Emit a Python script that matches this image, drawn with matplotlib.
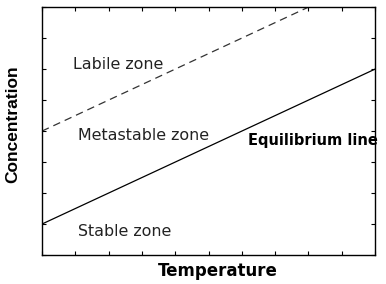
import numpy as np
import matplotlib.pyplot as plt

# solubility diagram: equilibrium (solid) and supersolubility (dashed) lines
temp_eq = [0, 10]
conc_eq = [1, 6]
temp_super = [0, 8]
conc_super = [4, 8]

zone_names = ['Labile zone', 'Metastable zone', 'Stable zone']
zone_x = [0.93, 1.08, 1.08]
zone_y = [6.15, 3.85, 0.75]

fig = plt.figure(figsize=(3.86, 2.84), dpi=100)
ax = fig.add_axes([0.1088, 0.102, 0.863, 0.873])

ax.plot(temp_eq, conc_eq, color='black', lw=0.9)
ax.plot(temp_super, conc_super, color='#333333', lw=0.9, ls=(0, (6, 4)))

for name, x, y in zip(zone_names, zone_x, zone_y):
    ax.text(x, y, name, fontsize=11.4, va='center', ha='left', color='#222222')
ax.text(6.18, 3.68, 'Equilibrium line', fontsize=10.5, fontweight='bold',
        va='center', ha='left', clip_on=False)

ax.set_xlim(0, 10)
ax.set_ylim(0, 8)
ax.set_xticks(np.arange(0, 11, 1))
ax.set_yticks(np.arange(0, 9, 1))
ax.tick_params(direction='in', length=3, width=0.8, top=True, right=True,
               labelbottom=False, labelleft=False)
for s in ax.spines.values():
    s.set_linewidth(1.0)

fig.text(218 / 386, 1 - 271 / 284, 'Temperature', fontsize=12, fontweight='bold',
         ha='center', va='center')
fig.text(13 / 386, 1 - 124 / 284, 'Concentration', fontsize=12.5,
         fontweight='bold', family='Liberation Sans', rotation=90,
         ha='center', va='center')

fig.savefig('out.png', dpi=100)
